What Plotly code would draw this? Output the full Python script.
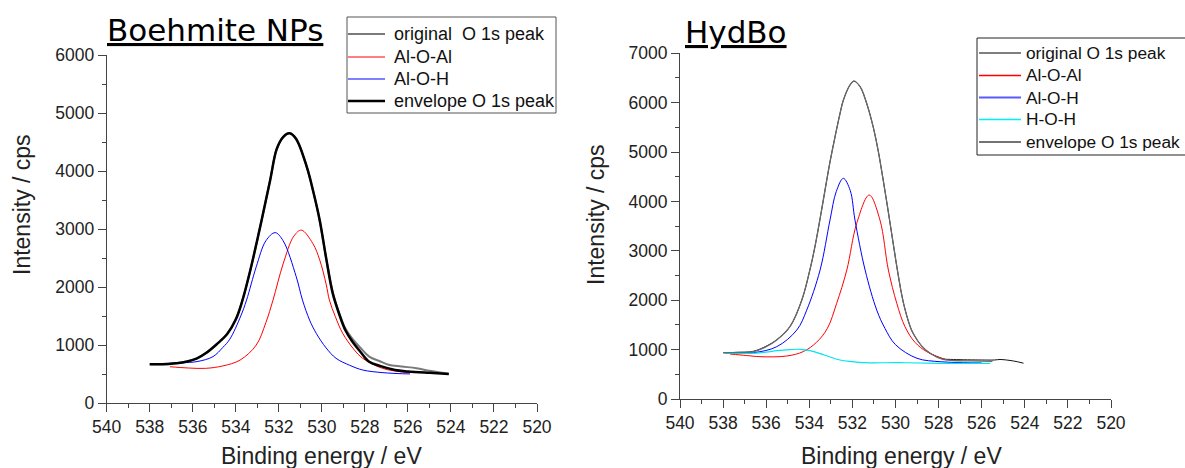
import plotly.graph_objects as go

# ---------------- Boehmite NPs (left) ----------------
be_orig_x = [538.0, 537.4, 536.8, 536.3, 535.8, 535.4, 534.9, 534.4, 534.0, 533.7, 533.3, 532.8, 532.4, 532.1,
             531.8, 531.5, 531.2, 530.7, 530.4, 530.1, 529.8, 529.5, 529.2, 528.9, 528.6, 528.2, 527.8, 527.3,
             526.9, 526.3, 525.6, 525.0, 524.5, 524.1]
be_orig_y = [670, 668, 685, 715, 770, 860, 1010, 1195, 1450, 1760, 2330, 3150, 3850, 4380,
             4590, 4660, 4560, 4070, 3650, 3150, 2500, 1920, 1560, 1280, 1120, 950, 800, 720,
             660, 630, 600, 555, 525, 505]

be_env_x = [538.0, 537.4, 536.8, 536.3, 535.8, 535.4, 534.9, 534.4, 534.0, 533.7, 533.3, 532.8, 532.4, 532.1,
            531.8, 531.5, 531.2, 530.7, 530.4, 530.1, 529.8, 529.5, 529.2, 528.9, 528.6, 528.2, 527.8, 527.3,
            526.6, 526.0, 525.0, 524.1]
be_env_y = [670, 668, 685, 712, 770, 857, 1010, 1190, 1440, 1760, 2330, 3155, 3850, 4380,
            4590, 4655, 4560, 4074, 3650, 3155, 2500, 1900, 1540, 1250, 1070, 880, 712, 640,
            570, 545, 520, 500]

be_aloal_x = [537.06, 536.2, 535.4, 534.6, 533.8, 533.05, 532.6, 532.27, 531.8, 531.3, 530.95, 530.42,
              530.1, 529.8, 529.65, 529.37, 529.03, 528.5, 528.1, 527.18, 525.94]
be_aloal_y = [626, 604, 598, 640, 741, 1000, 1390, 1776, 2400, 2880, 2983, 2753,
              2470, 2050, 1776, 1488, 1202, 920, 771, 598, 522]

be_aloh_x = [537.5, 536.5, 535.8, 535.06, 534.6, 534.28, 533.77, 533.5, 533.05, 532.6, 532.17, 531.8,
             531.19, 530.9, 530.57, 530.26, 529.8, 529.34, 528.7, 528.1, 527.2, 526.25, 525.9]
be_aloh_y = [680, 695, 715, 800, 960, 1100, 1500, 1776, 2350, 2800, 2940, 2800,
             2178, 1776, 1431, 1202, 950, 771, 650, 569, 525, 505, 502]

# ---------------- HydBo (right) ----------------
hy_orig_x = [537.99, 537.3, 536.6, 536.0, 535.51, 534.9, 534.35, 533.97, 533.74, 533.5, 533.27, 533.04,
             532.81, 532.58, 532.42, 532.11, 531.93, 531.65, 531.34, 531.03, 530.8, 530.57, 530.33, 530.1,
             529.87, 529.64, 529.33, 529.17, 528.8, 528.4, 527.8, 527.3, 526.0, 525.4, 525.15, 524.53, 524.06]
hy_orig_y = [937, 945, 965, 1070, 1200, 1464, 2000, 2620, 3080, 3650, 4230, 4800,
             5300, 5770, 6050, 6360, 6437, 6330, 5990, 5500, 5020, 4430, 3780, 3130,
             2500, 1960, 1480, 1320, 1080, 930, 815, 800, 790, 790, 800, 770, 725]

hy_env_x = [537.99, 537.3, 536.6, 536.0, 535.51, 534.9, 534.35, 533.97, 533.74, 533.5, 533.27, 533.04,
            532.81, 532.58, 532.42, 532.11, 531.93, 531.65, 531.34, 531.03, 530.8, 530.57, 530.33, 530.1,
            529.87, 529.64, 529.33, 529.17, 528.8, 528.4, 527.8, 527.32, 526.5, 525.5]
hy_env_y = [937, 945, 958, 1060, 1194, 1464, 2000, 2620, 3080, 3650, 4230, 4800,
            5300, 5770, 6050, 6360, 6437, 6330, 5990, 5500, 5020, 4430, 3780, 3130,
            2500, 1960, 1480, 1320, 1080, 925, 800, 780, 770, 760]

hy_aloal_x = [537.68, 536.9, 536.29, 535.05, 534.28, 533.66, 533.16, 532.73, 532.26, 531.8, 531.22,
              530.72, 530.33, 529.94, 529.56, 529.1, 528.55, 527.62]
hy_aloal_y = [911, 880, 857, 870, 960, 1150, 1431, 1937, 2611, 3557, 4130,
              3623, 2611, 1937, 1464, 1150, 958, 789]

hy_aloh_x = [537.5, 536.6, 535.51, 534.58, 534.12, 533.5, 533.04, 532.75, 532.42, 532.1, 531.88, 531.41,
             530.87, 530.49, 530.0, 529.0, 527.93, 526.85, 526.0]
hy_aloh_y = [925, 937, 1059, 1397, 1800, 2611, 3623, 4200, 4468, 4220, 3623, 2611,
             1800, 1431, 1100, 824, 755, 735, 730]

hy_hoh_x = [537.9, 536.75, 536.0, 535.51, 534.9, 534.43, 533.97, 533.3, 532.58, 532.0, 531.5, 529.79,
            527.93, 525.6]
hy_hoh_y = [925, 925, 950, 978, 1000, 1006, 978, 890, 789, 755, 735, 735,
            722, 722]

x_ticks = [540, 538, 536, 534, 532, 530, 528, 526, 524, 522, 520]

be_legend_names = ["original\u00a0 O 1s peak", "Al-O-Al", "Al-O-H", "envelope O 1s peak"]
hy_legend_names = ["original O 1s peak", "Al-O-Al", "Al-O-H", "H-O-H", "envelope O 1s peak"]

W, H = 1185, 468
FONT = "Liberation Sans, Arial, sans-serif"


def fx(p):
    return p / W


def fy(p):
    return 1 - p / H


fig = go.Figure()


def add(x, y, name, color, width, xa, ya):
    fig.add_trace(go.Scatter(x=x, y=y, name=name, mode="lines", showlegend=False,
                             line=dict(color=color, width=width, shape="spline", smoothing=1.0),
                             xaxis=xa, yaxis=ya, hoverinfo="skip"))


be_styles = [("#7a7a7a", 2), ("#ff0000", 1), ("#0000ff", 1), ("#000000", 2.5)]
hy_styles = [("#111111", 1), ("#ff0000", 1), ("#0000ff", 1), ("#00e5ee", 1.2), ("#6a6a6a", 1.3)]

for (xs, ys), name, (c, w) in zip([(be_orig_x, be_orig_y), (be_aloal_x, be_aloal_y), (be_aloh_x, be_aloh_y),
                                   (be_env_x, be_env_y)], be_legend_names, be_styles):
    add(xs, ys, name, c, w, "x", "y")
for (xs, ys), name, (c, w) in zip([(hy_orig_x, hy_orig_y), (hy_aloal_x, hy_aloal_y), (hy_aloh_x, hy_aloh_y),
                                   (hy_hoh_x, hy_hoh_y), (hy_env_x, hy_env_y)], hy_legend_names, hy_styles):
    add(xs, ys, name, c, w, "x2", "y2")

xcommon = dict(range=[540, 520], tickmode="array", tickvals=x_ticks, ticktext=[str(v) for v in x_ticks],
               ticks="outside", ticklen=8, tickwidth=1, tickcolor="#444",
               minor=dict(dtick=1, tick0=520, ticks="outside", ticklen=4, tickcolor="#444", showgrid=False),
               showline=True, linecolor="#444", linewidth=1, showgrid=False, zeroline=False,
               tickfont=dict(family=FONT, size=17.5, color="#222"), fixedrange=True)
ycommon = dict(tickmode="linear", tick0=0, dtick=1000, ticks="outside", ticklen=8, tickwidth=1, tickcolor="#444",
               minor=dict(dtick=500, ticks="outside", ticklen=4, tickcolor="#444", showgrid=False),
               showline=True, linecolor="#444", linewidth=1, showgrid=False, zeroline=False,
               tickfont=dict(family=FONT, size=17.5, color="#222"), fixedrange=True)

fig.update_layout(
    width=W, height=H, margin=dict(l=0, r=0, t=0, b=0, pad=0, autoexpand=False),
    paper_bgcolor="white", plot_bgcolor="white", showlegend=False,
    xaxis=dict(domain=[fx(106.7), fx(537)], anchor="y", **xcommon),
    yaxis=dict(domain=[fy(403), fy(55.3)], range=[0, 6000], anchor="x", **ycommon),
    xaxis2=dict(domain=[fx(680), fx(1111)], anchor="y2", **xcommon),
    yaxis2=dict(domain=[fy(399), fy(53.3)], range=[0, 7000], anchor="x2", **ycommon),
)

ann = [
    dict(text="<u>Boehmite NPs</u>", x=fx(105), y=fy(29.5), xanchor="left", yanchor="middle",
         font=dict(family="DejaVu Sans, Verdana, sans-serif", size=31, color="#000")),
    dict(text="<u>HydBo</u>", x=fx(683), y=fy(32), xanchor="left", yanchor="middle",
         font=dict(family="DejaVu Sans, Verdana, sans-serif", size=31, color="#000")),
    dict(text="Binding energy / eV", x=fx(321), y=fy(456), xanchor="center", yanchor="middle",
         font=dict(family=FONT, size=23, color="#222")),
    dict(text="Binding energy / eV", x=fx(901), y=fy(456), xanchor="center", yanchor="middle",
         font=dict(family=FONT, size=23, color="#222")),
    dict(text="Intensity / cps", x=fx(22), y=fy(205), xanchor="center", yanchor="middle", textangle=-90,
         font=dict(family=FONT, size=23, color="#222")),
    dict(text="Intensity / cps", x=fx(596), y=fy(215), xanchor="center", yanchor="middle", textangle=-90,
         font=dict(family=FONT, size=23, color="#222")),
]

shapes = []
# legend boxes
shapes.append(dict(type="rect", x0=fx(347), x1=fx(556), y0=fy(113), y1=fy(17),
                   line=dict(color="#555", width=1), fillcolor="white", layer="above"))
shapes.append(dict(type="rect", x0=fx(977), x1=fx(1192), y0=fy(155), y1=fy(38),
                   line=dict(color="#222", width=1), fillcolor="white", layer="above"))

be_leg_y = [34, 57, 79, 101]
for yy, name, (c, w) in zip(be_leg_y, be_legend_names, be_styles):
    shapes.append(dict(type="line", x0=fx(348), x1=fx(385), y0=fy(yy), y1=fy(yy),
                       line=dict(color=c, width=w), layer="above"))
    ann.append(dict(text=name, x=fx(392), y=fy(yy), xanchor="left", yanchor="middle",
                    font=dict(family=FONT, size=18, color="#111")))

hy_leg_y = [53, 75.5, 97.5, 119.5, 142]
hy_leg_styles = [("#555555", 1.3), ("#ff0000", 1.3), ("#5a5aff", 2.2), ("#00f0f0", 1.3), ("#444444", 1.3)]
for yy, name, (c, w) in zip(hy_leg_y, hy_legend_names, hy_leg_styles):
    shapes.append(dict(type="line", x0=fx(979), x1=fx(1021), y0=fy(yy), y1=fy(yy),
                       line=dict(color=c, width=w), layer="above"))
    ann.append(dict(text=name, x=fx(1024), y=fy(yy), xanchor="left", yanchor="middle",
                    font=dict(family=FONT, size=17.3, color="#111")))

for a in ann:
    a.update(xref="paper", yref="paper", showarrow=False)
for s in shapes:
    s.update(xref="paper", yref="paper")
fig.update_layout(annotations=ann, shapes=shapes)

fig.write_html("out.html")
